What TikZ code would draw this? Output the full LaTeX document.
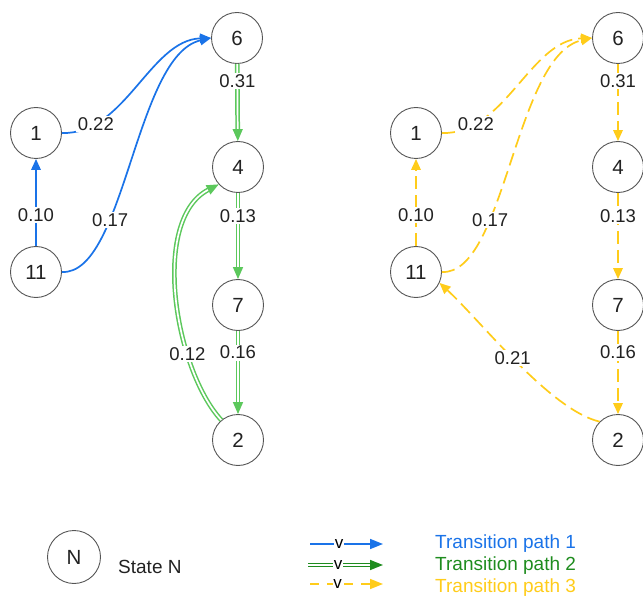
\documentclass[tikz,border=0pt]{standalone}
\usepackage{fontspec}
\setmainfont{Liberation Sans}
\usetikzlibrary{arrows.meta}
\definecolor{pblue}{HTML}{1A73E8}
\definecolor{pgreen}{HTML}{5CC85C}
\definecolor{pgreendark}{HTML}{1E8C1E}
\definecolor{pyellow}{HTML}{FFCC1A}
\definecolor{txt}{HTML}{222222}
\definecolor{ring}{HTML}{555555}
\begin{document}
\begin{tikzpicture}[x=1pt,y=-1pt,
  state/.style={circle, draw=ring, line width=0.9pt, minimum size=51pt, inner sep=0pt, font=\fontsize{20.5}{20.5}\selectfont, text=txt},
  lab/.style={fill=white, inner sep=1.5pt, font=\fontsize{18.5}{18.5}\selectfont, text=txt},
  legv/.style={fill=white, inner sep=0.8pt, font=\fontsize{17}{17}\selectfont, text=black},
  legtext/.style={anchor=west, inner sep=0pt, font=\fontsize{19}{19}\selectfont},
  bluepath/.style={draw=pblue, line width=1.7pt, -{Triangle[length=11pt,width=9.5pt]}},
  greenpath/.style={draw=#1, line width=1.5pt, double=white, double distance=1.7pt, -{Triangle[length=12pt,width=10pt]}},
  greenpath/.default=pgreen,
  yellowpath/.style={draw=pyellow, line width=1.7pt, dash pattern=on 13pt off 6pt, -{Triangle[length=11pt,width=9.5pt]}},
]
\useasboundingbox (0,0) rectangle (643,596);

% ---- left graph (path 1 and 2)
\node[state] (L6) at (237,38) {6};
\node[state] (L1) at (36,133) {1};
\node[state] (L4) at (238,167) {4};
\node[state] (L11) at (36,272) {11};
\node[state] (L7) at (238,305) {7};
\node[state] (L2) at (238,440) {2};

\draw[bluepath] (L11) -- node[lab, pos=0.36] {0.10} (L1);
\draw[bluepath] (L1.east) .. controls (125,135) and (150,40) .. (L6.west) node[lab, pos=0.2] {0.22};
\draw[bluepath] (L11.east) .. controls (125,275) and (135,55) .. (L6.west) node[lab, pos=0.32] {0.17};

\draw[greenpath] (L6) -- node[lab, pos=0.22] {0.31} (L4);
\draw[greenpath] (L4) -- node[lab, pos=0.27] {0.13} (L7);
\draw[greenpath] (L7) -- node[lab, pos=0.26] {0.16} (L2);
\draw[greenpath] (L2.130) .. controls (175,370) and (150,220) .. (L4.222) node[lab, pos=0.3] {0.12};

% ---- right graph (path 3)
\node[state] (R6) at (618,38) {6};
\node[state] (R1) at (416,133) {1};
\node[state] (R4) at (618,167) {4};
\node[state] (R11) at (416,272) {11};
\node[state] (R7) at (618,305) {7};
\node[state] (R2) at (618,440) {2};

\draw[yellowpath] (R11) -- node[lab, pos=0.36] {0.10} (R1);
\draw[yellowpath] (R1.east) .. controls (505,135) and (530,40) .. (R6.west) node[lab, pos=0.2] {0.22};
\draw[yellowpath] (R11.east) .. controls (505,275) and (515,55) .. (R6.west) node[lab, pos=0.32] {0.17};
\draw[yellowpath] (R6) -- node[lab, pos=0.22] {0.31} (R4);
\draw[yellowpath] (R4) -- node[lab, pos=0.27] {0.13} (R7);
\draw[yellowpath] (R7) -- node[lab, pos=0.26] {0.16} (R2);
\draw[yellowpath] (R2.135) .. controls (550,410) and (480,320) .. (R11.335) node[lab, pos=0.52] {0.21};

% ---- legend
\node[state, minimum height=53pt] (LN) at (74,557) {N};
\node[legtext, text=txt] (stateN) at (118,567) {State N};

\coordinate (b1) at (310,544); \coordinate (b2) at (383,544);
\coordinate (g1) at (308,565); \coordinate (g2) at (383,565);
\coordinate (y1) at (310,584); \coordinate (y2) at (383,584);
\draw[bluepath, -{Triangle[length=13pt,width=10pt]}] (b1) -- node[legv, pos=0.4] {v} (b2);
\draw[greenpath=pgreendark, -{Triangle[length=13pt,width=10pt]}] (g1) -- node[legv, pos=0.4] {v} (g2);
\draw[yellowpath, dash pattern=on 9pt off 8pt, -{Triangle[length=13pt,width=10pt]}] (y1) -- node[legv, pos=0.38] {v} (y2);

\node[legtext, text=pblue] (t1) at (435,544) {Transition path 1};
\node[legtext, text=pgreendark] (t2) at (435,566) {Transition path 2};
\node[legtext, text=pyellow] (t3) at (435,588) {Transition path 3};
\end{tikzpicture}
\end{document}
